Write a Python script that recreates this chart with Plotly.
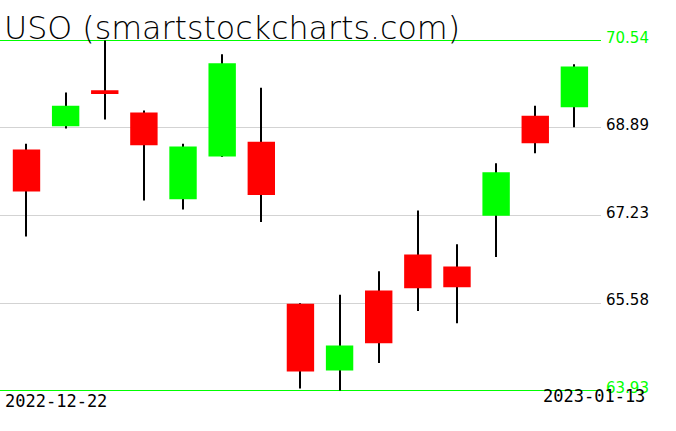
import plotly.graph_objects as go

dates = ["2022-12-22", "2022-12-23", "2022-12-27", "2022-12-28", "2022-12-29",
         "2022-12-30", "2023-01-03", "2023-01-04", "2023-01-05", "2023-01-06",
         "2023-01-09", "2023-01-10", "2023-01-11", "2023-01-12", "2023-01-13"]
opens  = [68.48, 68.92, 69.60, 69.18, 67.54, 68.35, 68.63, 65.57, 64.31, 65.82,
          66.50, 66.27, 67.23, 69.12, 69.28]
highs  = [68.59, 69.56, 70.54, 69.22, 68.59, 70.28, 69.65, 65.58, 65.74, 66.18,
          67.33, 66.69, 68.22, 69.31, 70.09]
lows   = [66.84, 68.88, 69.05, 67.52, 67.35, 68.34, 67.11, 63.97, 63.93, 64.45,
          65.43, 65.20, 66.45, 68.41, 68.90]
closes = [67.69, 69.31, 69.53, 68.56, 68.54, 70.11, 67.62, 64.29, 64.78, 64.82,
          65.86, 65.88, 68.05, 68.60, 70.05]
level_vals = [63.93, 65.58, 67.23, 68.89, 70.54]
level_labels = ["63.93", "65.58", "67.23", "68.89", "70.54"]
title_text = "USO (smartstockcharts.com)"

FONT = "DejaVu Sans"
GREEN = "#00ff00"
RED = "#ff0000"

xs = list(range(len(dates)))
x_range = [-0.677, 14.68]
plot_w = 601
px_per_slot = plot_w / (x_range[1] - x_range[0])

fig = go.Figure()
# wicks (bars drawn below the candlestick bodies)
fig.add_trace(go.Bar(
    x=xs, y=[h - l for h, l in zip(highs, lows)], base=lows,
    width=1.0 / px_per_slot, marker=dict(color="black", line=dict(width=0)),
    hoverinfo="skip", showlegend=False))
# bodies
fig.add_trace(go.Candlestick(
    x=xs, open=opens, high=highs, low=lows, close=closes,
    increasing=dict(fillcolor=GREEN, line=dict(color=GREEN, width=0)),
    decreasing=dict(fillcolor=RED, line=dict(color=RED, width=0)),
    whiskerwidth=0, showlegend=False, hoverinfo="skip"))

lo, hi = min(level_vals), max(level_vals)
shapes = []
for v in (lo, hi):
    shapes.append(dict(type="line", xref="paper", x0=0, x1=1, yref="y", y0=v, y1=v,
                       line=dict(color=GREEN, width=1), layer="below"))

annotations = []
for v, t in zip(level_vals, level_labels):
    col = GREEN if v in (lo, hi) else "black"
    annotations.append(dict(xref="paper", x=1, xanchor="left", xshift=3,
                            yref="y", y=v, yanchor="middle", yshift=3,
                            text=t, showarrow=False,
                            font=dict(family=FONT, size=15, color=col)))
annotations.append(dict(xref="paper", x=0, xanchor="left", xshift=3,
                        yref="paper", y=0, yanchor="middle", yshift=-1,
                        text=dates[0], showarrow=False,
                        font=dict(family="DejaVu Sans Mono", size=17, color="black")))
annotations.append(dict(xref="paper", x=1, xanchor="right", xshift=46,
                        yref="paper", y=0, yanchor="middle", yshift=4,
                        text=dates[-1], showarrow=False,
                        font=dict(family="DejaVu Sans Mono", size=17, color="black")))
annotations.append(dict(xref="paper", x=0, xanchor="left", xshift=2,
                        yref="paper", y=1, yanchor="bottom", yshift=-18,
                        text=title_text, showarrow=False,
                        font=dict(family=FONT, size=31.7, color="black", weight=200)))

px_per_unit = 350 / (hi - lo)
pad_top = 10.5 / px_per_unit
pad_bot = 9.5 / px_per_unit

fig.update_layout(
    width=676, height=431,
    margin=dict(l=0, r=75, t=30, b=31),
    paper_bgcolor="white", plot_bgcolor="white",
    boxgap=0.3, boxgroupgap=0, barmode="overlay",
    shapes=shapes, annotations=annotations,
    xaxis=dict(range=x_range, showgrid=False, zeroline=False,
               showticklabels=False, showline=False, rangeslider=dict(visible=False),
               fixedrange=True),
    yaxis=dict(range=[lo - pad_bot, hi + pad_top], tickvals=level_vals[1:-1],
               showticklabels=False, gridcolor="#d3d3d3", gridwidth=1,
               zeroline=False, showline=False, fixedrange=True),
    hovermode=False,
)

fig.write_html("out.html", config={"displayModeBar": False},
               post_script="document.body.style.margin='0';")
